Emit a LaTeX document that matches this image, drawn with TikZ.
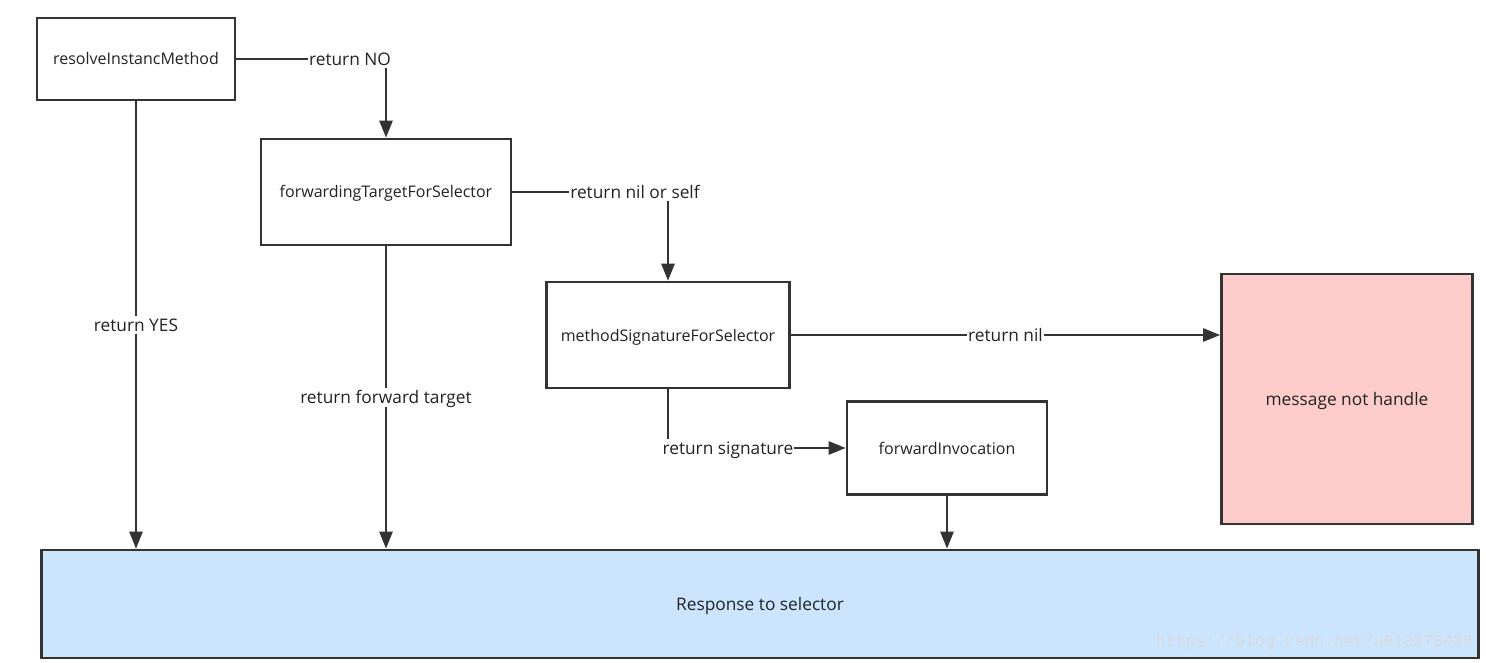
\documentclass[tikz,border=0pt]{standalone}
\usepackage{fontspec}
\setmainfont{Open Sans}
\setmonofont{Liberation Mono}
\usetikzlibrary{arrows.meta}
\definecolor{edge}{HTML}{333333}
\definecolor{ink}{HTML}{222222}
\definecolor{pinkfill}{HTML}{FFCCCC}
\definecolor{bluefill}{HTML}{CCE5FF}
\definecolor{wmark}{HTML}{D9D9D9}
\begin{document}
\begin{tikzpicture}[x=1pt,y=-1pt,
  boxtxt/.style={font=\fontsize{16}{19}\selectfont,text=ink,text height=12pt,text depth=0pt},
  lbltxt/.style={font=\fontsize{17.3}{20}\selectfont,text=ink,text height=12.4pt,text depth=0pt},
  box/.style={boxtxt,draw=edge,line width=2.6pt,fill=white,inner sep=0pt},
  bigbox/.style={box,lbltxt},
  conn/.style={draw=edge,line width=2.5pt},
  arr/.style={conn,-{Triangle[length=17pt,width=13pt]}},
  lbl/.style={lbltxt,fill=white,inner xsep=1pt,inner ysep=3pt}]
\useasboundingbox (0,0) rectangle (1486,663);

% method boxes
\node[box,minimum width=198pt,minimum height=82pt] (rim) at (136,59) {resolveInstancMethod};
\node[box,minimum width=250pt,minimum height=106pt] (ftfs) at (386,192) {forwardingTargetForSelector};
\node[box,minimum width=243pt,minimum height=106pt] (msfs) at (668,335) {methodSignatureForSelector};
\node[box,minimum width=200pt,minimum height=93pt] (fi) at (947,448) {forwardInvocation};
\node[bigbox,fill=pinkfill,minimum width=251pt,minimum height=250pt] (mnh) at (1347,399) {message not handle};
\node[bigbox,fill=bluefill,minimum width=1437pt,minimum height=108pt] (resp) at (760,604) {Response to selector};

% connectors
\draw[arr] (rim.east) -| (ftfs.north);
\node[lbl] (lno) at (350,59) {return NO};

\draw[arr] (rim.south) -- node[lbl] (lyes) {return YES} (rim.south |- resp.north);

\draw[arr] (ftfs.east) -| (msfs.north);
\node[lbl] (lnil) at (635,192) {return nil or self};

\draw[arr] (ftfs.south) -- node[lbl] (ltarget) {return forward target} (ftfs.south |- resp.north);

\draw[arr] (msfs.east) -- node[lbl] (lnil2) {return nil} (msfs.east -| mnh.west);

\draw[arr] (msfs.south) |- (fi.west);
\node[lbl] (lsig) at (728,448) {return signature};

\draw[arr] (fi.south) -- (fi.south |- resp.north);

% watermark
\node[font=\ttfamily\fontsize{16.5}{18}\selectfont,text=wmark,anchor=east,inner sep=0pt] (wm) at (1473,642) {https://blog.csdn.net/u013378438};
\end{tikzpicture}
\end{document}
